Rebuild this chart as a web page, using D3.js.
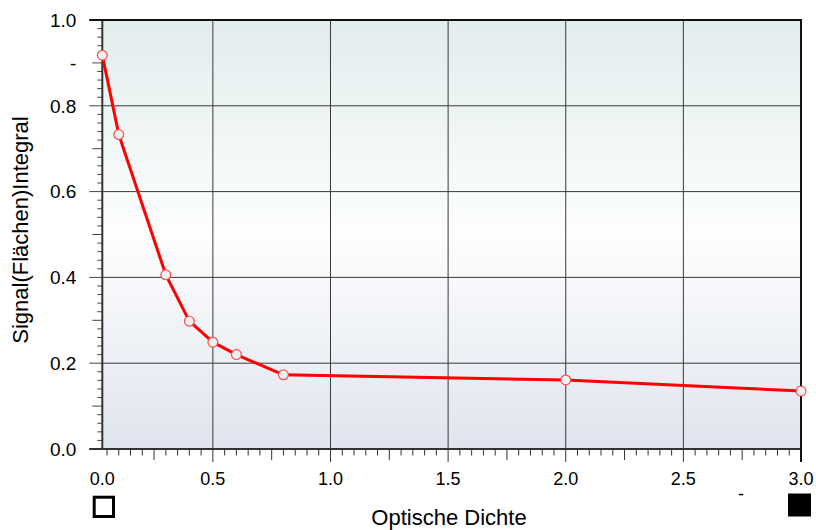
<!DOCTYPE html>
<html>
<head>
<meta charset="utf-8">
<script src="https://cdn.jsdelivr.net/npm/d3@7"></script>
<style>
  html, body { margin: 0; padding: 0; background: #fff; }
  svg { display: block; font-family: "Liberation Sans", Arial, sans-serif; }
</style>
</head>
<body>
<svg id="chart" width="816" height="530"></svg>
<script>
// ==================== DATA ====================
const densities = [0.03, 0.1, 0.3, 0.4, 0.5, 0.6, 0.8, 2.0, 3.0];
const signals = [0.918, 0.733, 0.406, 0.298, 0.249, 0.220, 0.173, 0.161, 0.135];

const xTickValues = [0.03, 0.5, 1.0, 1.5, 2.0, 2.5, 3.0];
const xTickLabels = ['0.0', '0.5', '1.0', '1.5', '2.0', '2.5', '3.0'];
const yTickValues = [0.0, 0.2, 0.4, 0.6, 0.8, 0.9, 1.0];
const yTickLabels = ['0.0', '0.2', '0.4', '0.6', '0.8', '-', '1.0'];

const xTitle = 'Optische Dichte';
const yTitle = 'Signal(Flächen)Integral';

// ==================== LAYOUT ====================
const margin = { left: 102.3, right: 15, top: 20, bottom: 81 };
const width = 816, height = 530;
const innerW = width - margin.left - margin.right;
const innerH = height - margin.top - margin.bottom;

const svg = d3.select('#chart');

const x = d3.scaleLinear().domain([0.03, 3.0]).range([0, innerW]);
const y = d3.scaleLinear().domain([0, 1]).range([innerH, 0]);

// background gradient
const defs = svg.append('defs');
const grad = defs.append('linearGradient')
  .attr('id', 'bg-grad')
  .attr('x1', 0).attr('y1', 0).attr('x2', 0).attr('y2', 1);
grad.append('stop').attr('offset', '0%').attr('stop-color', '#e2eded');
grad.append('stop').attr('offset', '50%').attr('stop-color', '#fdfefe');
grad.append('stop').attr('offset', '100%').attr('stop-color', '#e0e4ee');

const g = svg.append('g')
  .attr('transform', `translate(${margin.left},${margin.top})`);

g.append('rect')
  .attr('width', innerW)
  .attr('height', innerH)
  .attr('fill', 'url(#bg-grad)');

// ==================== GRID ====================
g.append('g')
  .selectAll('line')
  .data([0.5, 1.0, 1.5, 2.0, 2.5])
  .enter()
  .append('line')
  .attr('x1', d => x(d)).attr('x2', d => x(d))
  .attr('y1', 0).attr('y2', innerH)
  .attr('stroke', '#3a3a3a')
  .attr('stroke-width', 1);

g.append('g')
  .selectAll('line')
  .data([0.2, 0.4, 0.6, 0.8])
  .enter()
  .append('line')
  .attr('x1', 0).attr('x2', innerW)
  .attr('y1', d => y(d)).attr('y2', d => y(d))
  .attr('stroke', '#3a3a3a')
  .attr('stroke-width', 1);

// ==================== TICKS ====================
// x minor ticks every 0.05, mid every 0.25, major every 0.5
const xMinor = d3.range(1, 61).map(i => +(i * 0.05).toFixed(2));
g.append('g')
  .selectAll('line')
  .data(xMinor)
  .enter()
  .append('line')
  .attr('x1', d => x(d)).attr('x2', d => x(d))
  .attr('y1', innerH)
  .attr('y2', d => {
    const k = Math.round(d * 100);
    if (k % 50 === 0) return innerH + 13;
    if (k % 25 === 0) return innerH + 11;
    return innerH + 6.5;
  })
  .attr('stroke', '#333')
  .attr('stroke-width', 1);

// y minor ticks every 0.02, mid every 0.1, major every 0.2
const yMinor = d3.range(0, 51).map(i => +(i * 0.02).toFixed(2));
g.append('g')
  .selectAll('line')
  .data(yMinor)
  .enter()
  .append('line')
  .attr('x1', d => {
    const k = Math.round(d * 100);
    if (k % 20 === 0) return -13;
    if (k % 10 === 0) return -10;
    return -5;
  })
  .attr('x2', 0)
  .attr('y1', d => y(d)).attr('y2', d => y(d))
  .attr('stroke', '#444')
  .attr('stroke-width', 1);

// axis lines and frame
g.append('line')
  .attr('x1', 0).attr('x2', 0).attr('y1', 0).attr('y2', innerH)
  .attr('stroke', '#333').attr('stroke-width', 2);
g.append('line')
  .attr('x1', -13).attr('x2', innerW).attr('y1', innerH).attr('y2', innerH)
  .attr('stroke', '#333').attr('stroke-width', 2);
g.append('line')
  .attr('x1', -13).attr('x2', innerW + 1).attr('y1', 0).attr('y2', 0)
  .attr('stroke', '#111').attr('stroke-width', 2);
g.append('line')
  .attr('x1', innerW).attr('x2', innerW).attr('y1', 0).attr('y2', innerH + 13)
  .attr('stroke', '#111').attr('stroke-width', 2);

// ==================== TICK LABELS ====================
g.append('g')
  .selectAll('text')
  .data(xTickValues)
  .enter()
  .append('text')
  .attr('x', d => x(d))
  .attr('y', innerH + 36)
  .attr('text-anchor', 'middle')
  .attr('font-size', '18px')
  .attr('fill', '#000')
  .text((d, i) => xTickLabels[i]);

g.append('g')
  .selectAll('text')
  .data(yTickValues)
  .enter()
  .append('text')
  .attr('x', -26)
  .attr('y', d => y(d))
  .attr('dy', '0.36em')
  .attr('text-anchor', 'end')
  .attr('font-size', '19px')
  .attr('fill', '#000')
  .text((d, i) => yTickLabels[i]);

// ==================== TITLES ====================
svg.append('text')
  .attr('x', 449)
  .attr('y', 525)
  .attr('text-anchor', 'middle')
  .attr('font-size', '22px')
  .attr('fill', '#000')
  .text(xTitle);

svg.append('text')
  .attr('transform', 'translate(28,230) rotate(-90)')
  .attr('text-anchor', 'middle')
  .attr('font-size', '22px')
  .attr('fill', '#000')
  .text(yTitle);

// ==================== LINE + MARKERS ====================
const points = densities.map((d, i) => ({ x: d, y: signals[i] }));

g.append('path')
  .datum(points)
  .attr('d', d3.line().x(d => x(d.x)).y(d => y(d.y)))
  .attr('fill', 'none')
  .attr('stroke', '#ff0000')
  .attr('stroke-width', 3)
  .attr('stroke-linejoin', 'round');

g.append('g')
  .selectAll('circle')
  .data(points)
  .enter()
  .append('circle')
  .attr('cx', d => x(d.x))
  .attr('cy', d => y(d.y))
  .attr('r', 4.9)
  .attr('fill', '#f0f2f2')
  .attr('stroke', '#ff4a4a')
  .attr('stroke-width', 1.2);

// ==================== DECORATION ====================
svg.append('rect')
  .attr('x', 94.2).attr('y', 497.2)
  .attr('width', 19.3).attr('height', 19.3)
  .attr('fill', 'none')
  .attr('stroke', '#000')
  .attr('stroke-width', 3);

svg.append('rect')
  .attr('x', 788).attr('y', 493.5)
  .attr('width', 23).attr('height', 23)
  .attr('fill', '#000');

svg.append('text')
  .attr('x', 741)
  .attr('y', 500)
  .attr('text-anchor', 'middle')
  .attr('font-size', '18px')
  .attr('fill', '#000')
  .text('-');
</script>
</body>
</html>
